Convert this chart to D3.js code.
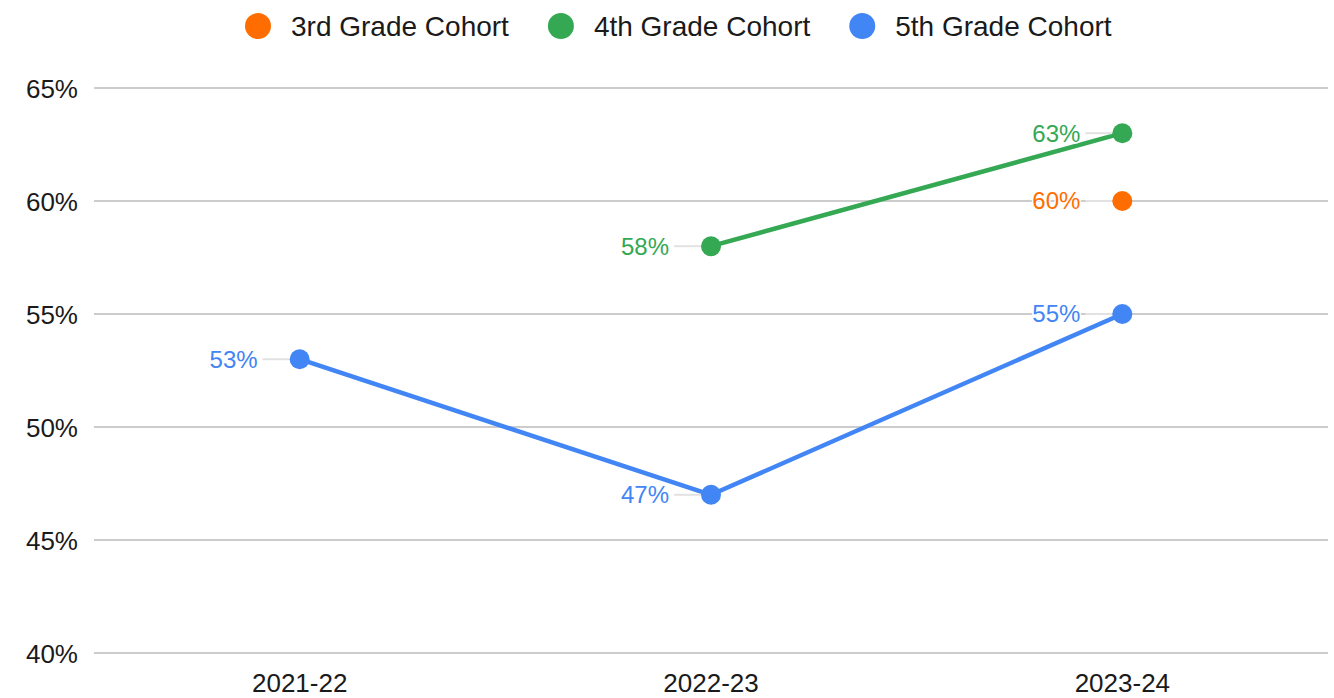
<!DOCTYPE html>
<html><head><meta charset="utf-8">
<script src="https://cdn.jsdelivr.net/npm/d3@7"></script>
<style>
html,body{margin:0;padding:0;background:#fff;}
svg{display:block;font-family:"Liberation Sans",Arial,sans-serif;}
</style></head>
<body>
<svg id="chart" width="1334" height="698"></svg>
<script>
const categories = ["2021-22", "2022-23", "2023-24"];
const seriesNames = ["3rd Grade Cohort", "4th Grade Cohort", "5th Grade Cohort"];
const seriesColors = ["#ff6d01", "#34a853", "#4285f4"];
const grade3 = [null, null, 60];
const grade4 = [null, 58, 63];
const grade5 = [53, 47, 55];
const yTicks = [40, 45, 50, 55, 60, 65];

const seriesValues = [grade3, grade4, grade5];
const svg = d3.select("#chart");
const plotLeft = 94, plotRight = 1328, plotTop = 88, plotBottom = 653;

const x = d3.scaleBand().domain(categories).range([plotLeft, plotRight]);
const y = d3.scaleLinear().domain([40, 65]).range([plotBottom, plotTop]);
const cx = c => x(c) + x.bandwidth() / 2;

// gridlines
svg.append("g").selectAll("line").data(yTicks).join("line")
  .attr("x1", plotLeft).attr("x2", plotRight)
  .attr("y1", d => y(d)).attr("y2", d => y(d))
  .attr("stroke", "#cccccc").attr("stroke-width", 2);

// y axis labels
const yAxis = d3.axisLeft(y).tickValues(yTicks).tickFormat(d => d + "%").tickSize(0).tickPadding(16);
const yg = svg.append("g").attr("transform", `translate(${plotLeft},0)`).call(yAxis);
yg.select(".domain").remove();
yg.selectAll("text").attr("font-size", 26).attr("fill", "#1a1a1a").attr("font-family", "'Liberation Sans',Arial,sans-serif").attr("dy", "0.35em");

// x axis labels
const xAxis = d3.axisBottom(x).tickSize(0).tickPadding(0);
const xg = svg.append("g").attr("transform", `translate(0,${plotBottom})`).call(xAxis);
xg.select(".domain").remove();
xg.selectAll("text").attr("font-size", 26).attr("fill", "#1a1a1a").attr("font-family", "'Liberation Sans',Arial,sans-serif").attr("dy", null).attr("y", 39);

// series
const line = d3.line().defined(d => d.v !== null).x(d => cx(d.c)).y(d => y(d.v));
seriesValues.forEach((vals, i) => {
  const pts = vals.map((v, j) => ({c: categories[j], v}));
  const valid = pts.filter(p => p.v !== null);
  const g = svg.append("g");
  g.append("path").datum(pts).attr("d", line).attr("fill", "none")
    .attr("stroke", seriesColors[i]).attr("stroke-width", 4.5).attr("stroke-linejoin", "round");
  g.selectAll("line.lead").data(valid).join("line").attr("class", "lead")
    .attr("x1", d => cx(d.c) - 37).attr("x2", d => cx(d.c) - 10)
    .attr("y1", d => y(d.v)).attr("y2", d => y(d.v))
    .attr("stroke", "#e2e2e2").attr("stroke-width", 2);
  g.selectAll("circle").data(valid).join("circle")
    .attr("cx", d => cx(d.c)).attr("cy", d => y(d.v)).attr("r", 10)
    .attr("fill", seriesColors[i]);
  g.selectAll("text").data(valid).join("text")
    .attr("x", d => cx(d.c) - 42).attr("y", d => y(d.v)).attr("dy", "0.35em")
    .attr("text-anchor", "end").attr("font-size", 24)
    .attr("fill", seriesColors[i])
    .attr("stroke", "#fff").attr("stroke-width", 3).attr("paint-order", "stroke")
    .text(d => d.v + "%");
});

// legend
const lg = svg.append("g");
let lx = 245;
seriesNames.forEach((name, i) => {
  lg.append("circle").attr("cx", lx + 13).attr("cy", 26).attr("r", 13).attr("fill", seriesColors[i]);
  const t = lg.append("text").attr("x", lx + 46).attr("y", 26).attr("dy", "0.35em")
    .attr("font-size", 28).attr("fill", "#1a1a1a").text(name);
  const w = t.node().getComputedTextLength();
  lx = lx + 46 + w + 39;
});
</script>
</body></html>
